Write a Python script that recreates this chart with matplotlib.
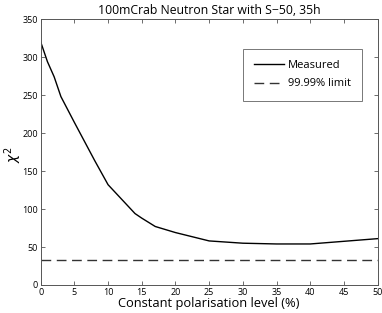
import matplotlib
matplotlib.use("Agg")
import matplotlib.pyplot as plt

# values
pol_level = [0, 1, 2, 3, 5, 8, 10, 12, 14, 15, 17, 20, 25, 30, 35, 40, 50]
chi2_measured = [320, 294, 274, 248, 214, 164, 132, 113, 94, 88, 77, 69, 58, 55, 54, 54, 61]
limit_x = [0, 50]
limit_9999 = [33, 33]

plt.rcParams['font.family'] = ['Open Sans', 'DejaVu Sans']

fig = plt.figure(figsize=(3.82, 3.13), dpi=100)
ax = fig.add_axes([0.1065, 0.0895, 0.882, 0.8495])

ax.plot(pol_level, chi2_measured, color='black', lw=1.0, label='Measured')
ax.plot(limit_x, limit_9999, color='#333333', lw=1.0, ls=(0, (7, 4)), label='99.99% limit')

ax.set_xlim(0, 50)
ax.set_ylim(0, 350)
ax.set_xticks(range(0, 51, 5))
ax.set_yticks(range(0, 351, 50))
ax.tick_params(direction='in', length=3, width=0.6, top=True, right=True,
               labelsize=6.5, pad=2, color='#555555')
for s in ax.spines.values():
    s.set_linewidth(0.7)
    s.set_color('#555555')

ax.set_title('100mCrab Neutron Star with S\u221250, 35h', fontsize=8.8, pad=4)
ax.set_xlabel('Constant polarisation level (%)', fontsize=9.3, labelpad=0)
ax.set_ylabel(r'$\chi^2$', fontsize=10)
ax.yaxis.set_label_coords(-0.05, 0.49)

leg = ax.legend(loc='upper right', bbox_to_anchor=(0.97, 0.91), fontsize=8,
                fancybox=False, edgecolor='#555555', handlelength=2.7,
                borderpad=1.0, labelspacing=0.7, handletextpad=0.3)
leg.get_frame().set_linewidth(0.7)

fig.savefig('out.png', dpi=100)
